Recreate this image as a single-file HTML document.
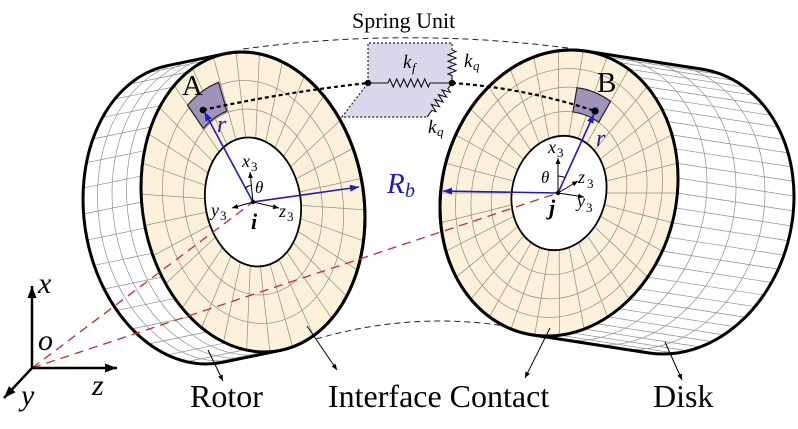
<!DOCTYPE html>
<html><head><meta charset="utf-8">
<style>
html,body{margin:0;padding:0;background:#fff}
svg{display:block}
.u path,.u line,.u circle{vector-effect:non-scaling-stroke}
</style></head><body>
<svg width="798" height="429" viewBox="0 0 798 429" xmlns="http://www.w3.org/2000/svg" font-family="'Liberation Serif', serif">
<defs>
<marker id="mb" viewBox="0 0 10 10" refX="10" refY="5" markerWidth="9" markerHeight="7" markerUnits="userSpaceOnUse" orient="auto" preserveAspectRatio="none"><path d="M0 0L10 5L0 10z" fill="#1a1acc"/></marker>
<marker id="mk" viewBox="0 0 10 10" refX="10" refY="5" markerWidth="6" markerHeight="5" markerUnits="userSpaceOnUse" orient="auto" preserveAspectRatio="none"><path d="M0 0L10 5L0 10z" fill="#000"/></marker>
<marker id="mK" viewBox="0 0 10 10" refX="10" refY="5" markerWidth="12" markerHeight="9" markerUnits="userSpaceOnUse" orient="auto" preserveAspectRatio="none"><path d="M0 0L10 5L0 10z" fill="#000"/></marker>
</defs>

<!-- outer dashed arcs -->
<path d="M243 49Q405 27 568 48" fill="none" stroke="#222" stroke-width="1" stroke-dasharray="6 4"/>
<path d="M316 339Q420 309 522 329" fill="none" stroke="#222" stroke-width="1" stroke-dasharray="6 4"/>

<!-- ROTOR -->
<g class="u" transform="matrix(111.4 0 11.2 150 253 202)">
<path d="M.1495 .9888L-.3792 1.0688A1 1 0 0 1 -1.5175 .2295A1 1 0 0 1 -.6782 -.9088L-.1495 -.9888A1 1 0 0 1 .9888 -.1495A1 1 0 0 1 .1495 .9888Z" fill="#fff"/>
<path fill="none" stroke="#8e8e8e" stroke-width="0.7" d="M0 1l-.5287 .08M-.1736 .9848l-.5287 .08M-.342 .9397l-.5287 .08M-.5 .866l-.5287 .08M-.6428 .766l-.5287 .08M-.766 .6428l-.5287 .08M-.866 .5l-.5287 .08M-.9397 .342l-.5287 .08M-.9848 .1736l-.5287 .08M-1 0l-.5287 .08M-.9848 -.1736l-.5287 .08M-.9397 -.342l-.5287 .08M-.866 -.5l-.5287 .08M-.766 -.6428l-.5287 .08M-.6428 -.766l-.5287 .08M-.5 -.866l-.5287 .08M-.342 -.9397l-.5287 .08M-.1736 -.9848l-.5287 .08
M.0173 1.0088A1 1 0 0 1 -1.121 .1695A1 1 0 0 1 -.2817 -.9688
M-.1149 1.0288A1 1 0 0 1 -1.2532 .1895A1 1 0 0 1 -.4139 -.9488
M-.247 1.0488A1 1 0 0 1 -1.3853 .2095A1 1 0 0 1 -.546 -.9288"/>
<circle r="1" fill="#fcf1da"/>
<g fill="none" stroke="#9b9080" stroke-width="0.75">
<circle r=".81"/><circle r=".62"/>
<line x1=".43" x2="1" transform="rotate(3)"/><line x1=".43" x2="1" transform="rotate(15)"/><line x1=".43" x2="1" transform="rotate(27)"/><line x1=".43" x2="1" transform="rotate(39)"/><line x1=".43" x2="1" transform="rotate(51)"/><line x1=".43" x2="1" transform="rotate(63)"/><line x1=".43" x2="1" transform="rotate(75)"/><line x1=".43" x2="1" transform="rotate(87)"/><line x1=".43" x2="1" transform="rotate(99)"/><line x1=".43" x2="1" transform="rotate(111)"/><line x1=".43" x2="1" transform="rotate(123)"/><line x1=".43" x2="1" transform="rotate(135)"/><line x1=".43" x2="1" transform="rotate(147)"/><line x1=".43" x2="1" transform="rotate(159)"/><line x1=".43" x2="1" transform="rotate(171)"/><line x1=".43" x2="1" transform="rotate(183)"/><line x1=".43" x2="1" transform="rotate(195)"/><line x1=".43" x2="1" transform="rotate(207)"/><line x1=".43" x2="1" transform="rotate(219)"/><line x1=".43" x2="1" transform="rotate(231)"/><line x1=".43" x2="1" transform="rotate(243)"/><line x1=".43" x2="1" transform="rotate(255)"/><line x1=".43" x2="1" transform="rotate(267)"/><line x1=".43" x2="1" transform="rotate(279)"/><line x1=".43" x2="1" transform="rotate(291)"/><line x1=".43" x2="1" transform="rotate(303)"/><line x1=".43" x2="1" transform="rotate(315)"/><line x1=".43" x2="1" transform="rotate(327)"/><line x1=".43" x2="1" transform="rotate(339)"/><line x1=".43" x2="1" transform="rotate(351)"/>
</g>
<path d="M-.5223 -.645A.83 .83 0 0 1 -.2287 -.7979L-.1736 -.6056A.63 .63 0 0 0 -.3965 -.4896Z" fill="#9d93bb" stroke="#222" stroke-width="1.2"/>
<circle r=".43" fill="#fff" stroke="#000" stroke-width="1.8"/>
<path d="M.1495 .9888L-.3792 1.0688A1 1 0 0 1 -1.5175 .2295A1 1 0 0 1 -.6782 -.9088L-.1495 -.9888A1 1 0 0 1 .9888 -.1495A1 1 0 0 1 .1495 .9888Z" fill="none" stroke="#000" stroke-width="3" stroke-linejoin="round"/>
<circle r="1" fill="none" stroke="#000" stroke-width="3"/>
</g>

<!-- DISK -->
<g class="u" transform="matrix(118.4 0 -12 143 559 193)">
<path d="M.1259 -.992L1.1184 -.8661A1 1 0 0 1 1.9845 .2518A1 1 0 0 1 .8666 1.1179L-.1259 .992A1 1 0 0 1 -.992 -.1259A1 1 0 0 1 .1259 -.992Z" fill="#fff"/>
<path fill="none" stroke="#8e8e8e" stroke-width="0.7" d="M.2079 -.9781l.9925 .1259M.309 -.9511l.9925 .1259M.4067 -.9135l.9925 .1259M.5 -.866l.9925 .1259M.5878 -.809l.9925 .1259M.6691 -.7431l.9925 .1259M.7431 -.6691l.9925 .1259M.809 -.5878l.9925 .1259M.866 -.5l.9925 .1259M.9135 -.4067l.9925 .1259M.9511 -.309l.9925 .1259M.9781 -.2079l.9925 .1259M.9945 -.1045l.9925 .1259M1 0l.9925 .1259M.9945 .1045l.9925 .1259M.9781 .2079l.9925 .1259M.9511 .309l.9925 .1259M.9135 .4067l.9925 .1259M.866 .5l.9925 .1259M.809 .5878l.9925 .1259M.7431 .6691l.9925 .1259M.6691 .7431l.9925 .1259M.5878 .809l.9925 .1259M.5 .866l.9925 .1259M.4067 .9135l.9925 .1259M.309 .9511l.9925 .1259M.2079 .9781l.9925 .1259M.1045 .9945l.9925 .1259M0 1l.9925 .1259M-.1045 .9945l.9925 .1259
M.374 -.9605A1 1 0 0 1 1.2401 .1574A1 1 0 0 1 .1222 1.0235
M.6222 -.929A1 1 0 0 1 1.4883 .1889A1 1 0 0 1 .3704 1.055
M.8703 -.8976A1 1 0 0 1 1.7364 .2203A1 1 0 0 1 .6185 1.0864"/>
<circle r="1" fill="#fcf1da"/>
<g fill="none" stroke="#9b9080" stroke-width="0.75">
<circle r=".87"/><circle r=".74"/><circle r=".57"/>
<line x1=".4" x2="1" transform="rotate(0)"/><line x1=".4" x2="1" transform="rotate(12)"/><line x1=".4" x2="1" transform="rotate(24)"/><line x1=".4" x2="1" transform="rotate(36)"/><line x1=".4" x2="1" transform="rotate(48)"/><line x1=".4" x2="1" transform="rotate(60)"/><line x1=".4" x2="1" transform="rotate(72)"/><line x1=".4" x2="1" transform="rotate(84)"/><line x1=".4" x2="1" transform="rotate(96)"/><line x1=".4" x2="1" transform="rotate(108)"/><line x1=".4" x2="1" transform="rotate(120)"/><line x1=".4" x2="1" transform="rotate(132)"/><line x1=".4" x2="1" transform="rotate(144)"/><line x1=".4" x2="1" transform="rotate(156)"/><line x1=".4" x2="1" transform="rotate(168)"/><line x1=".4" x2="1" transform="rotate(180)"/><line x1=".4" x2="1" transform="rotate(192)"/><line x1=".4" x2="1" transform="rotate(204)"/><line x1=".4" x2="1" transform="rotate(216)"/><line x1=".4" x2="1" transform="rotate(228)"/><line x1=".4" x2="1" transform="rotate(240)"/><line x1=".4" x2="1" transform="rotate(252)"/><line x1=".4" x2="1" transform="rotate(264)"/><line x1=".4" x2="1" transform="rotate(276)"/><line x1=".4" x2="1" transform="rotate(288)"/><line x1=".4" x2="1" transform="rotate(300)"/><line x1=".4" x2="1" transform="rotate(312)"/><line x1=".4" x2="1" transform="rotate(324)"/><line x1=".4" x2="1" transform="rotate(336)"/><line x1=".4" x2="1" transform="rotate(348)"/>
</g>
<path d="M.0773 -.7359A.74 .74 0 0 1 .37 -.6408L.285 -.4936A.57 .57 0 0 0 .0596 -.5669Z" fill="#9d93bb" stroke="#222" stroke-width="1.2"/>
<circle r=".4" fill="#fff" stroke="#000" stroke-width="1.8"/>
<path d="M.1259 -.992L1.1184 -.8661A1 1 0 0 1 1.9845 .2518A1 1 0 0 1 .8666 1.1179L-.1259 .992A1 1 0 0 1 -.992 -.1259A1 1 0 0 1 .1259 -.992Z" fill="none" stroke="#000" stroke-width="3" stroke-linejoin="round"/>
<circle r="1" fill="none" stroke="#000" stroke-width="3"/>
</g>

<!-- SPRING UNIT -->
<path d="M368 43L452 43L452 83L427 117L342 117L368 83Z" fill="#dcd7ea"/>
<path d="M452 50L452 43L368 43L368 83L342 117L427 117" fill="none" stroke="#222" stroke-width="1.2" stroke-dasharray="2 2"/>
<path d="M368 83L388 83l1.75 -4l3.5 8l3.5 -8l3.5 8l3.5 -8l3.5 8l3.5 -8l3.5 8l3.5 -8l3.5 8l3.5 -8l3.5 8l1.75 -4L452 83" fill="none" stroke="#111" stroke-width="1.1"/>
<path d="M452 50l4 1.6l-8 3.2l8 3.2l-8 3.2l8 3.2l-8 3.2l8 3.2l-8 3.2l4 1.6L452 83" fill="none" stroke="#111" stroke-width="1.1"/>
<g transform="translate(452 83) rotate(126.3)"><path d="M0 0L7 0l1.5 -4l3 8l3 -8l3 8l3 -8l3 8l3 -8l3 8l3 -8l1.5 4L42 0" fill="none" stroke="#111" stroke-width="1.1"/></g>
<text x="352" y="28" font-size="22">Spring Unit</text>
<text x="403" y="68" font-size="19" font-style="italic">k</text><text x="412" y="72" font-size="13" font-style="italic">f</text>
<text x="464" y="67" font-size="19" font-style="italic">k</text><text x="473" y="70" font-size="13" font-style="italic">q</text>
<text x="428" y="133" font-size="19" font-style="italic">k</text><text x="437" y="136" font-size="13" font-style="italic">q</text>

<!-- dashed connection lines -->
<path d="M203 110Q285 92 368 83" fill="none" stroke="#000" stroke-width="2.2" stroke-dasharray="4 3"/>
<path d="M452 83Q525 88 595 111" fill="none" stroke="#000" stroke-width="2.2" stroke-dasharray="4 3"/>
<circle cx="368" cy="83" r="3.2"/><circle cx="452" cy="83" r="3.2"/>
<circle cx="203" cy="110" r="3.3"/><circle cx="595" cy="111" r="3.6"/>
<text x="182" y="95" font-size="29">A</text>
<text x="597" y="92" font-size="29">B</text>

<!-- red dashed lines -->
<path d="M32 368L253 202M32 368L558 193" fill="none" stroke="#c0302a" stroke-width="1.3" stroke-dasharray="9 6"/>

<!-- blue arrows -->
<g stroke="#1a1acc" stroke-width="1.6" fill="none">
<path d="M253 202L204.5 112" marker-end="url(#mb)"/>
<path d="M253 202L359 187" marker-end="url(#mb)"/>
<path d="M558 193L443 191" marker-end="url(#mb)"/>
<path d="M558 193L594 114" marker-end="url(#mb)"/>
</g>
<text x="217" y="132" font-size="24" font-style="italic" fill="#1a1acc">r</text>
<text x="596" y="146" font-size="24" font-style="italic" fill="#1a1acc">r</text>
<text x="387" y="193" font-size="29" font-style="italic" fill="#1a1acc">R</text><text x="405" y="197" font-size="20" font-style="italic" fill="#1a1acc">b</text>

<!-- local axes -->
<g stroke="#000" stroke-width="1" fill="none">
<path d="M253 202L250 172" marker-end="url(#mk)"/>
<path d="M253 202L279 208" marker-end="url(#mk)"/>
<path d="M253 202L232 208" marker-end="url(#mk)"/>
<path d="M245 188A17 17 0 0 1 251.4 185.1"/>
<path d="M558 193L558 158" marker-end="url(#mk)"/>
<path d="M558 193L578 181" marker-end="url(#mk)"/>
<path d="M558 193L584 197" marker-end="url(#mk)"/>
<path d="M558.3 176A17 17 0 0 1 565 177.6"/>
</g>
<circle cx="253" cy="202" r="2.2"/><circle cx="558" cy="193" r="2.2"/>
<g font-style="italic">
<text x="242" y="167" font-size="18">x</text><text x="251" y="171" font-size="13" font-style="normal">3</text>
<text x="255" y="193" font-size="17">θ</text>
<text x="211" y="216" font-size="18">y</text><text x="220" y="220" font-size="13" font-style="normal">3</text>
<text x="279" y="217" font-size="18">z</text><text x="287" y="221" font-size="13" font-style="normal">3</text>
<text x="251" y="229" font-size="22" font-weight="bold">i</text>
<text x="548" y="153" font-size="18">x</text><text x="557" y="157" font-size="13" font-style="normal">3</text>
<text x="541" y="183" font-size="17">θ</text>
<text x="578" y="183" font-size="18">z</text><text x="587" y="188" font-size="13" font-style="normal">3</text>
<text x="577" y="207" font-size="18">y</text><text x="586" y="212" font-size="13" font-style="normal">3</text>
<text x="549" y="215" font-size="22" font-weight="bold">j</text>
</g>

<!-- global axes -->
<g stroke="#000" stroke-width="2.5" fill="none">
<path d="M32 369L32 286" marker-end="url(#mK)"/>
<path d="M31 368L117 368" marker-end="url(#mK)"/>
<path d="M32 368L4 398" marker-end="url(#mK)"/>
</g>
<g font-style="italic" font-size="30">
<text x="38" y="293">x</text>
<text x="38" y="350">o</text>
<text x="92" y="395">z</text>
<text x="21" y="405">y</text>
</g>

<!-- leader arrows -->
<g stroke="#000" stroke-width="1" fill="none">
<path d="M208 350L223 381" marker-end="url(#mk)"/>
<path d="M307 326L337 370" marker-end="url(#mk)"/>
<path d="M550 328L525 378" marker-end="url(#mk)"/>
<path d="M665 342L682 380" marker-end="url(#mk)"/>
</g>
<g font-size="32">
<text x="190" y="407">Rotor</text>
<text x="328" y="407">Interface Contact</text>
<text x="653" y="407">Disk</text>
</g>
</svg>
</body></html>
